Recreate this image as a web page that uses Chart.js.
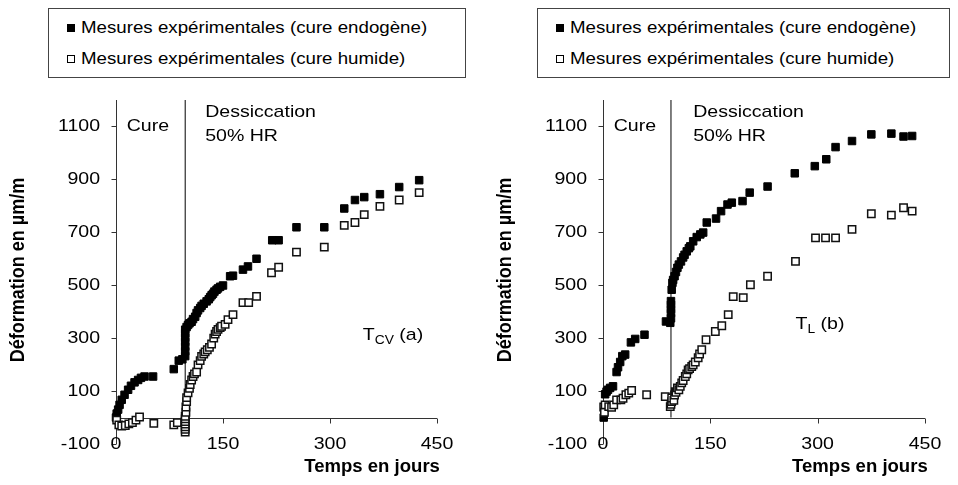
<!DOCTYPE html>
<html lang="fr">
<head>
<meta charset="UTF-8">
<title>Déformation en µm/m – TCV et TL</title>
<script src="https://cdn.jsdelivr.net/npm/chart.js"></script>
<style>
  body { margin: 0; background: #fff; }
  #page { position: relative; width: 958px; height: 485px; overflow: hidden; font-family: "Liberation Sans", Arial, sans-serif; }
  .panel { position: absolute; top: 0; width: 479px; height: 485px; }
  .panel canvas { position: absolute; left: 0; top: 0; }
  .legende { position: absolute; top: 8px; height: 70px; border: 1px solid #444; box-sizing: border-box; background: #fff; }
  .legende .mk { position: absolute; width: 8px; height: 8px; box-sizing: border-box; }
  .legende .txt { position: absolute; font-size: 17px; line-height: 20px; white-space: nowrap; transform: scaleX(1.1); transform-origin: 0 50%; color: #000; }
</style>
</head>
<body>
<div id="page">
  <div class="panel" id="pA" style="left:0"><canvas id="chartA" width="479" height="485"></canvas></div>
  <div class="panel" id="pB" style="left:479px"><canvas id="chartB" width="479" height="485"></canvas></div>
</div>

<script>
const SX = 1.15; // le texte de la figure est un peu étiré en largeur
const FONT = '"Liberation Sans", Arial, sans-serif';

const seriesLabels = ['Mesures expérimentales (cure endogène)', 'Mesures expérimentales (cure humide)'];
const yTicks = [-100, 100, 300, 500, 700, 900, 1100];
const xTicks = [0, 150, 300, 450];
const yRange = [-100, 1200];
const xRange = [0, 450];

// --- Tcv (a) ---
const tcvEndoDays = [0, 1, 3, 5, 8, 12, 17, 21, 26, 31, 35, 40, 52, 81, 88, 93,
  97, 97, 97, 97, 97, 97, 97, 99, 101, 103, 106, 108, 111, 113, 115, 118, 120, 123, 127, 130, 132, 134, 136, 138, 141, 143, 146, 150,
  160, 164, 178, 185, 197, 219, 228, 253, 292, 320, 335, 348, 370, 397, 425];
const tcvEndoVals = [0, 15, 30, 48, 67, 86, 105, 120, 133, 142, 150, 155, 155, 183, 215, 220,
  232, 250, 268, 286, 302, 318, 332, 342, 350, 356, 362, 372, 381, 395, 405, 414, 422, 430, 439, 447, 455, 462, 468, 476, 483, 488, 494, 499,
  534, 536, 559, 571, 600, 670, 670, 719, 719, 790, 822, 833, 844, 871, 897];

const tcvHumDays = [1, 4, 8, 13, 18, 23, 28, 33, 53, 81, 86,
  97, 97, 97, 97, 97, 97, 97, 98, 98, 99, 99, 101, 103, 104, 106, 108, 110, 113, 115, 118, 120, 123, 125, 128, 131, 134, 137, 139, 141, 143, 146, 148, 153, 157, 164,
  178, 186, 197, 218, 228, 253, 292, 320, 335, 348, 370, 397, 425];
const tcvHumVals = [-10, -28, -32, -30, -24, -19, -10, 2, -22, -28, -19,
  -55, -45, -35, -25, -15, -5, 5, 20, 40, 60, 75, 93, 110, 125, 142, 155, 165, 172, 199, 215, 231, 240, 248, 256, 265, 278, 300, 315, 325, 333, 340, 345, 352, 370, 389,
  434, 434, 458, 547, 568, 625, 644, 726, 737, 767, 798, 822, 850];

// --- TL (b) ---
const tlEndoDays = [1, 3, 5, 7, 10, 14, 19, 21, 24, 27, 31, 39, 45, 58, 88,
  94, 95, 95, 95, 95, 95, 96, 97, 98, 100, 102, 104, 106, 109, 112, 114, 117, 120, 122, 126, 131, 136, 140, 145,
  158, 165, 174, 180, 195, 205, 230, 268, 296, 312, 325, 348, 375, 403, 420, 432];
const tlEndoVals = [0, 88, 98, 105, 112, 118, 172, 190, 210, 232, 238, 284, 297, 313, 363,
  358, 375, 395, 410, 426, 440, 483, 509, 520, 534, 550, 566, 578, 590, 605, 615, 628, 640, 647, 666, 682, 692, 699, 737,
  752, 780, 805, 812, 818, 850, 873, 923, 950, 976, 1022, 1045, 1070, 1073, 1062, 1064];

const tlHumDays = [1, 2, 3, 8, 12, 15, 19, 25, 28, 32, 36, 40, 61, 87,
  94, 95, 96, 96, 99, 100, 101, 102, 104, 106, 108, 110, 112, 115, 117, 119, 121, 124, 126, 129, 133, 135, 138, 144,
  157, 166, 175, 182, 196, 206, 230, 269, 297, 311, 325, 348, 375, 403, 420, 432];
const tlHumVals = [40, 20, 48, 41, 39, 48, 67, 67, 73, 86, 92, 102, 86, 79,
  41, 50, 60, 74, 65, 85, 98, 95, 112, 105, 118, 131, 140, 155, 165, 180, 185, 193, 199, 210, 226, 240, 256, 294,
  325, 347, 389, 457, 453, 502, 534, 590, 679, 679, 679, 711, 770, 765, 793, 780];

// début de la dessiccation (jours)
const dessiccationDayA = 97;
const dessiccationDayB = 95;

const pts = (xs, ys) => xs.map((x, i) => ({ x: x, y: ys[i] }));

function drawText(ctx, s, px, py, font, align, rotate, sx) {
  ctx.save();
  ctx.translate(px, py);
  ctx.scale(sx || SX, 1);
  if (rotate) ctx.rotate(-Math.PI / 2);
  ctx.font = font;
  ctx.fillStyle = '#000';
  ctx.textAlign = align;
  ctx.textBaseline = 'middle';
  ctx.fillText(s, 0, 0);
  ctx.restore();
}

// axes croisant à 0, graduations et étiquettes comme dans Excel
const axesPlugin = {
  id: 'axesExcel',
  beforeDatasetsDraw(chart) {
    const ctx = chart.ctx;
    const x = chart.scales.x, y = chart.scales.y;
    const x0 = Math.round(x.getPixelForValue(0)) + 0.5;
    const y0 = Math.round(y.getPixelForValue(0)) + 0.5;
    ctx.save();
    ctx.strokeStyle = '#333';
    ctx.lineWidth = 1;
    ctx.beginPath();
    ctx.moveTo(x0, y.top); ctx.lineTo(x0, y.bottom);
    ctx.moveTo(x0, y0); ctx.lineTo(x.right, y0);
    yTicks.forEach(v => {
      const p = Math.round(y.getPixelForValue(v)) + 0.5;
      ctx.moveTo(x0 - 5, p); ctx.lineTo(x0, p);
    });
    xTicks.forEach(v => {
      const p = Math.round(x.getPixelForValue(v)) + 0.5;
      ctx.moveTo(p, y0); ctx.lineTo(p, y0 + 5);
    });
    ctx.stroke();
    ctx.restore();

    const f = '17px ' + FONT;
    yTicks.forEach(v => drawText(ctx, String(v), x.left - 16, y.getPixelForValue(v), f, 'right'));
    xTicks.forEach(v => drawText(ctx, String(v), x.getPixelForValue(v), y.getPixelForValue(-100), f, 'center'));
  },
  afterDraw(chart, args, opts) {
    const ctx = chart.ctx;
    const x = chart.scales.x, y = chart.scales.y;
    const f = '17px ' + FONT;
    const fb = 'bold 18px ' + FONT;
    drawText(ctx, 'Déformation en µm/m', x.left - 98, 270, fb, 'center', true);
    drawText(ctx, 'Temps en jours', x.getPixelForValue(359), 467, fb, 'center', false, 1.03);
    opts.notes.forEach(n => drawText(ctx, n.text, x.getPixelForValue(n.x), y.getPixelForValue(n.y), f, 'left'));
    // nom de l'éprouvette avec indice
    const s = opts.sample;
    const px = x.getPixelForValue(s.x);
    const py = y.getPixelForValue(s.y);
    ctx.save();
    ctx.font = f;
    const wT = ctx.measureText('T').width * SX;
    ctx.font = '12px ' + FONT;
    const wSub = ctx.measureText(s.sub).width * SX;
    ctx.restore();
    drawText(ctx, 'T', px, py, f, 'left');
    drawText(ctx, s.sub, px + wT, py + 5, '12px ' + FONT, 'left');
    drawText(ctx, ' ' + s.tail, px + wT + wSub, py, f, 'left');
  }
};

function buildLegend(panel, left, width) {
  const box = document.createElement('div');
  box.className = 'legende';
  box.style.left = left + 'px';
  box.style.width = width + 'px';
  seriesLabels.forEach((lab, i) => {
    const cy = i === 0 ? 19 : 50;
    const mk = document.createElement('div');
    mk.className = 'mk';
    mk.style.left = '18px';
    mk.style.top = (cy - 4) + 'px';
    mk.style.background = i === 0 ? '#000' : '#fff';
    mk.style.border = i === 0 ? '1px solid #000' : '1.5px solid #000';
    box.appendChild(mk);
    const t = document.createElement('div');
    t.className = 'txt';
    t.style.left = '32px';
    t.style.top = (cy - 10) + 'px';
    t.textContent = lab;
    box.appendChild(t);
  });
  document.getElementById(panel).appendChild(box);
}

function makeChart(id, endo, hum, sepDay, pad, notes, sample) {
  return new Chart(document.getElementById(id), {
    type: 'scatter',
    data: {
      datasets: [
        {
          label: seriesLabels[0], data: endo, order: 2, clip: false,
          pointStyle: 'rect', pointRadius: 5.3, pointHoverRadius: 5.3,
          backgroundColor: '#000', borderColor: '#000', borderWidth: 1
        },
        {
          label: seriesLabels[1], data: hum, order: 1, clip: false,
          pointStyle: 'rect', pointRadius: 5.2, pointHoverRadius: 5.2,
          backgroundColor: '#fff', borderColor: '#111', borderWidth: 1.5
        },
        {
          label: 'Dessiccation', type: 'line', order: 3,
          data: [{ x: sepDay, y: 0 }, { x: sepDay, y: yRange[1] }],
          borderColor: '#000', borderWidth: 1, pointRadius: 0, fill: false
        }
      ]
    },
    options: {
      responsive: false,
      animation: false,
      events: [],
      layout: { padding: pad },
      plugins: {
        legend: { display: false },
        tooltip: { enabled: false },
        axesExcel: { notes: notes, sample: sample }
      },
      scales: {
        x: { type: 'linear', min: xRange[0], max: xRange[1], display: false },
        y: { type: 'linear', min: yRange[0], max: yRange[1], display: false }
      }
    },
    plugins: [axesPlugin]
  });
}

buildLegend('pA', 48, 418);
buildLegend('pB', 58, 413);

makeChart('chartA', pts(tcvEndoDays, tcvEndoVals), pts(tcvHumDays, tcvHumVals), dessiccationDayA,
  { left: 116, right: 42, top: 100, bottom: 41 },
  [{ text: 'Cure', x: 15, y: 1100 }, { text: 'Dessiccation', x: 125, y: 1154 }, { text: '50% HR', x: 125, y: 1063 }],
  { sub: 'CV', tail: '(a)', x: 346, y: 309 });

makeChart('chartB', pts(tlEndoDays, tlEndoVals), pts(tlHumDays, tlHumVals), dessiccationDayB,
  { left: 124, right: 33, top: 100, bottom: 41 },
  [{ text: 'Cure', x: 15, y: 1100 }, { text: 'Dessiccation', x: 126, y: 1154 }, { text: '50% HR', x: 126, y: 1063 }],
  { sub: 'L', tail: '(b)', x: 269, y: 351 });
</script>
</body>
</html>
